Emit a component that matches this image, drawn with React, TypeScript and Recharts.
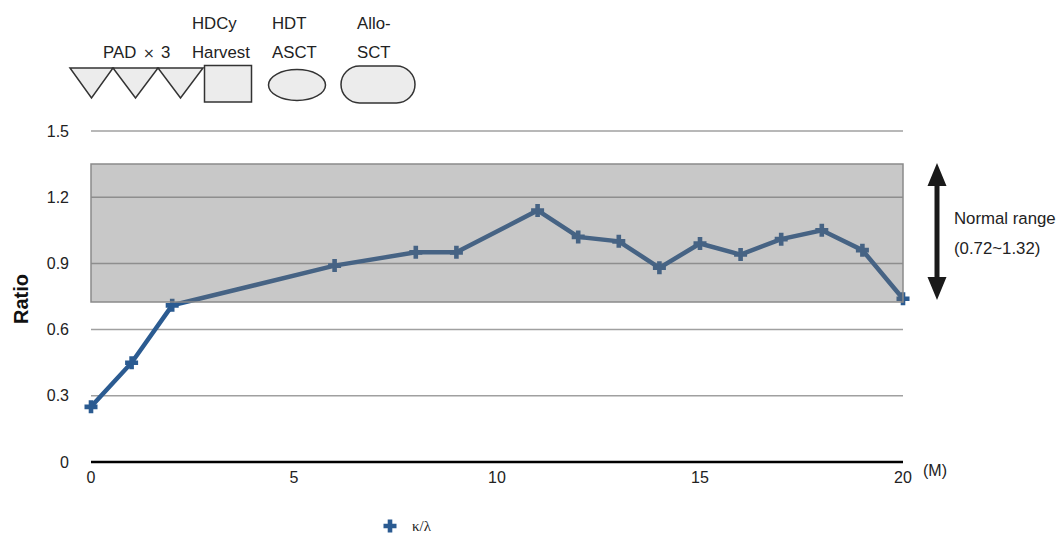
import React from "react";
import {
  LineChart,
  Line,
  XAxis,
  YAxis,
  CartesianGrid,
  ReferenceArea,
} from "recharts";

// months since start of therapy and serum free light chain ratio
const months = [0, 1, 2, 6, 8, 9, 11, 12, 13, 14, 15, 16, 17, 18, 19, 20];
const ratio = [0.25, 0.45, 0.71, 0.89, 0.95, 0.95, 1.14, 1.02, 1.0, 0.88, 0.99, 0.94, 1.01, 1.05, 0.96, 0.74];
const xTicks = [0, 5, 10, 15, 20];
const yTicks = [0, 0.3, 0.6, 0.9, 1.2, 1.5];
const normalLow = 0.725;
const normalHigh = 1.35;

const data = months.map((m, i) => ({ month: m, ratio: ratio[i] }));

const LINE = "#2b5b91";
const FONT = "'Liberation Sans', Arial, Helvetica, sans-serif";
const TXT = "#222";

function Cross(props: any) {
  const { cx, cy } = props;
  if (cx == null || cy == null) return null;
  const a = 6.5;
  const t = 2.3;
  const d = `M${cx - t},${cy - a}H${cx + t}V${cy - t}H${cx + a}V${cy + t}H${cx + t}V${cy + a}H${cx - t}V${cy + t}H${cx - a}V${cy - t}H${cx - t}Z`;
  return <path d={d} fill={LINE} />;
}

function Annotations() {
  const shape = { fill: "#ececec", stroke: "#333", strokeWidth: 1.5 };
  const txt = { fontFamily: FONT, fontSize: 16.8, fill: TXT };
  return (
    <svg
      width={1057}
      height={533}
      style={{ position: "absolute", left: 0, top: 0, pointerEvents: "none" }}
    >
      {/* treatment timeline */}
      <text x={103} y={58} {...txt}>PAD</text>
      <text x={143} y={58} {...txt} fontFamily="'DejaVu Sans', sans-serif" fontSize={14}>×</text>
      <text x={161} y={58} {...txt}>3</text>
      <polygon points="70,68 113,68 91.5,98" {...shape} />
      <polygon points="113,68 158,68 135.5,98" {...shape} />
      <polygon points="158,68 203,68 180.5,98" {...shape} />
      <rect x={204.5} y={65.5} width={47} height={36.5} {...shape} />
      <ellipse cx={297} cy={85} rx={28.5} ry={15.5} {...shape} />
      <rect x={341} y={66} width={74} height={37} rx={18.5} ry={18.5} {...shape} />
      <text x={192} y={28.5} {...txt}>HDCy</text>
      <text x={192} y={58} {...txt}>Harvest</text>
      <text x={272} y={28.5} {...txt}>HDT</text>
      <text x={272} y={58} {...txt}>ASCT</text>
      <text x={357} y={28.5} {...txt}>Allo-</text>
      <text x={357} y={58} {...txt}>SCT</text>

      {/* axis titles */}
      <text
        x={21}
        y={299}
        transform="rotate(-90 21 299)"
        textAnchor="middle"
        dominantBaseline="central"
        fontFamily={FONT}
        fontSize={20}
        fontWeight="bold"
        fill="#111"
      >
        Ratio
      </text>
      <text x={923} y={476} {...txt} fontSize={16}>(M)</text>

      {/* normal range marker */}
      <polygon
        points="937,163 946.5,186 939.5,186 939.5,277 946.5,277 937,300 927.5,277 934.5,277 934.5,186 927.5,186"
        fill="#1a1a1a"
      />
      <text x={954} y={224} {...txt}>Normal range</text>
      <text x={954} y={254} {...txt}>(0.72~1.32)</text>

      {/* legend */}
      <Cross cx={390} cy={526} />
      <text
        x={412}
        y={531}
        fontFamily="'Liberation Serif', 'Times New Roman', serif"
        fontSize={15}
        fill={TXT}
      >
        κ/λ
      </text>
    </svg>
  );
}

export default function App() {
  return (
    <div style={{ position: "relative", width: 1057, height: 533, background: "#fff" }}>
      <style>{`body{margin:0}`}</style>
      <LineChart
        width={1057}
        height={533}
        data={data}
        margin={{ top: 131, right: 154, bottom: 41, left: 0 }}
      >
        <CartesianGrid vertical={false} stroke="#a0a0a0" strokeWidth={1.5} />
        <XAxis
          dataKey="month"
          type="number"
          domain={[0, 20]}
          ticks={xTicks}
          height={30}
          tickLine={false}
          tickSize={0}
          tickMargin={10}
          axisLine={{ stroke: "#000", strokeWidth: 2.5 }}
          tick={{ fontSize: 16, fill: TXT, fontFamily: FONT }}
        />
        <YAxis
          width={91}
          type="number"
          domain={[0, 1.5]}
          ticks={yTicks}
          tickLine={false}
          axisLine={false}
          tickSize={0}
          tickMargin={22}
          tick={{ fontSize: 16, fill: TXT, fontFamily: FONT }}
        />
        <Line
          type="linear"
          dataKey="ratio"
          stroke={LINE}
          strokeWidth={4.5}
          dot={<Cross />}
          activeDot={false}
          isAnimationActive={false}
        />
        <ReferenceArea
          y1={normalLow}
          y2={normalHigh}
          fill="#717171"
          fillOpacity={0.39}
          stroke="#8a8a8a"
          strokeWidth={1.5}
          zIndex={1000}
        />
      </LineChart>
      <Annotations />
    </div>
  );
}
